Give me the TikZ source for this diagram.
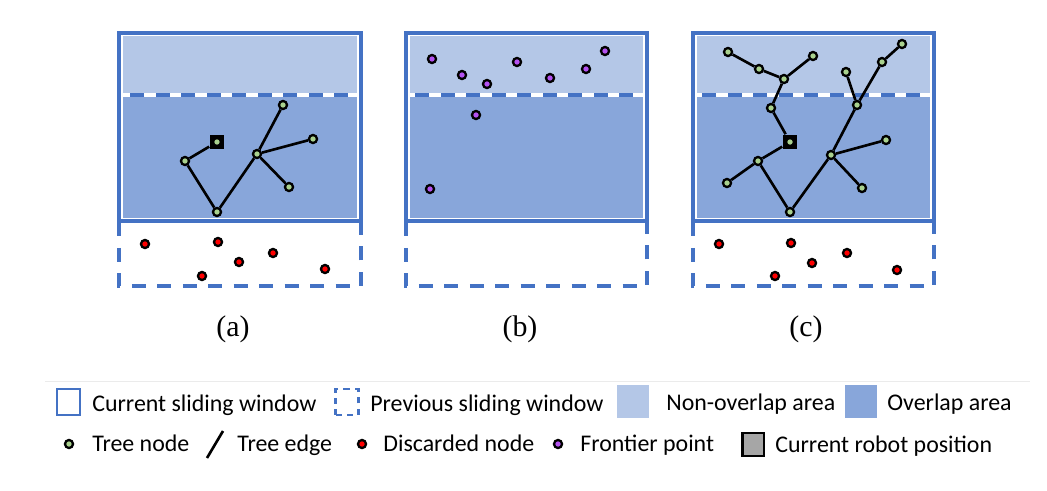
\documentclass[tikz,border=0pt]{standalone}
\usepackage{fontspec}
\setmainfont{Carlito}
\newfontfamily\capfont{Liberation Serif}
\definecolor{winblue}{HTML}{4472C4}
\definecolor{lightarea}{HTML}{B4C7E7}
\definecolor{darkarea}{HTML}{88A6DA}
\definecolor{treegreen}{HTML}{A9D18E}
\definecolor{frontpurple}{HTML}{B452F0}
\begin{document}
\begin{tikzpicture}[x=0.02cm, y=-0.02cm,
  curwin/.style={draw=winblue, line width=2.1pt},
  prevwin/.style={draw=winblue, line width=2.1pt, dash pattern=on 8pt off 6.5pt},
  nonover/.style={fill=lightarea},
  over/.style={fill=darkarea},
  ptdot/.style={circle, draw=black, line width=1.3pt, inner sep=0pt, minimum size=4.6pt},
  tnode/.style={ptdot, fill=treegreen},
  dnode/.style={ptdot, fill=red},
  fpoint/.style={ptdot, fill=frontpurple},
  robot/.style={rectangle, fill=black, inner sep=0pt, minimum size=8.5pt},
  treeedge/.style={line width=1.5pt},
  sublabel/.style={font=\capfont\fontsize{17}{20}\selectfont, anchor=base, inner sep=0pt},
  legtext/.style={font=\fontsize{13.6}{16}\selectfont, anchor=base west, inner sep=0pt},
  legkey/.style={rectangle, inner sep=0pt, minimum width=13pt, minimum height=14.5pt}]
  \useasboundingbox (0,0) rectangle (1047,490);

  % Panel (a): tree in the overlap area, discarded nodes below
  \begin{scope}[shift={(119,0)}]
    \fill[nonover] (4,36) rectangle (238,93);
    \fill[over] (4,97) rectangle (238,218);
    \draw[prevwin] (0,95) -- (0,286) -- (242,286) -- (242,95) -- cycle;
    \draw[curwin] (0,33) rectangle (242,221);

    \node[robot] (ar) at (98,142) {};
    \node[tnode] (ar0) at (ar) {};
    \node[tnode] (a1) at (66,161) {};
    \node[tnode] (a2) at (98,212) {};
    \node[tnode] (a3) at (138,154) {};
    \node[tnode] (a4) at (164,105) {};
    \node[tnode] (a5) at (194,139) {};
    \node[tnode] (a6) at (170,187) {};
    \draw[treeedge] (ar) -- (a1) -- (a2) -- (a3);
    \draw[treeedge] (a3) -- (a4) (a3) -- (a5) (a3) -- (a6);

    \node[dnode] (ad1) at (26,244) {};
    \node[dnode] (ad2) at (99,242) {};
    \node[dnode] (ad3) at (120,262) {};
    \node[dnode] (ad4) at (154,253) {};
    \node[dnode] (ad5) at (83,276) {};
    \node[dnode] (ad6) at (206,269) {};

    \node[sublabel] (alabel) at (114,336) {(a)};
  \end{scope}

  % Panel (b): frontier points
  \begin{scope}[shift={(406,0)}]
    \fill[nonover] (4,36) rectangle (237,93);
    \fill[over] (4,97) rectangle (237,218);
    \draw[prevwin] (0,95) -- (0,286) -- (241,286) -- (241,95) -- cycle;
    \draw[curwin] (0,33) rectangle (241,221);

    \node[fpoint] (b1) at (26,59) {};
    \node[fpoint] (b2) at (56,75) {};
    \node[fpoint] (b3) at (81,84) {};
    \node[fpoint] (b4) at (111,62) {};
    \node[fpoint] (b5) at (144,78) {};
    \node[fpoint] (b6) at (180,69) {};
    \node[fpoint] (b7) at (199,51) {};
    \node[fpoint] (b8) at (70,115) {};
    \node[fpoint] (b9) at (24,189) {};

    \node[sublabel] (blabel) at (114,336) {(b)};
  \end{scope}

  % Panel (c): tree grown into the new area
  \begin{scope}[shift={(693,0)}]
    \fill[nonover] (4,36) rectangle (237,93);
    \fill[over] (4,97) rectangle (237,218);
    \draw[prevwin] (0,95) -- (0,286) -- (241,286) -- (241,95) -- cycle;
    \draw[curwin] (0,33) rectangle (241,221);

    \node[robot] (cr) at (97,142) {};
    \node[tnode] (cr0) at (cr) {};
    \node[tnode] (c1) at (35,52) {};
    \node[tnode] (c2) at (66,69) {};
    \node[tnode] (c3) at (91,79) {};
    \node[tnode] (c4) at (120,56) {};
    \node[tnode] (c5) at (78,108) {};
    \node[tnode] (c6) at (65,161) {};
    \node[tnode] (c7) at (34,183) {};
    \node[tnode] (c8) at (97,212) {};
    \node[tnode] (c9) at (138,155) {};
    \node[tnode] (c10) at (193,140) {};
    \node[tnode] (c11) at (169,188) {};
    \node[tnode] (c12) at (164,105) {};
    \node[tnode] (c13) at (153,72) {};
    \node[tnode] (c14) at (189,62) {};
    \node[tnode] (c15) at (209,44) {};
    \draw[treeedge] (c1) -- (c2) -- (c3) -- (c4) (c3) -- (c5) -- (cr) -- (c6) -- (c7);
    \draw[treeedge] (c6) -- (c8) -- (c9) -- (c10) (c9) -- (c11) (c9) -- (c12) -- (c13);
    \draw[treeedge] (c12) -- (c14) -- (c15);

    \node[dnode] (cd1) at (26,244) {};
    \node[dnode] (cd2) at (98,243) {};
    \node[dnode] (cd3) at (119,263) {};
    \node[dnode] (cd4) at (154,253) {};
    \node[dnode] (cd5) at (82,276) {};
    \node[dnode] (cd6) at (204,270) {};

    \node[sublabel] (clabel) at (113,336) {(c)};
  \end{scope}

  % Legend
  \draw[black!8, line width=0.5pt] (45,381) -- (1030,381);

  \node[legkey, draw=winblue, line width=1.3pt] (kcur) at (68.5,402) {};
  \node[legtext] (tcur) at (92,411) {Current sliding window};
  \node[legkey, draw=winblue, line width=1.3pt, dash pattern=on 3.5pt off 3pt] (kprev) at (347,402) {};
  \node[legtext] (tprev) at (370,411) {Previous sliding window};
  \node[legkey, fill=lightarea, minimum width=18pt, minimum height=18.5pt] (knon) at (633,401.5) {};
  \node[legtext] (tnon) at (666,410) {Non-overlap area};
  \node[legkey, fill=darkarea, minimum width=18pt, minimum height=18.5pt] (kover) at (861,401.5) {};
  \node[legtext] (tover) at (887,410) {Overlap area};

  \node[tnode] (ktree) at (69,444) {};
  \node[legtext] (ttree) at (92,451) {Tree node};
  \coordinate (kedgea) at (207,458);
  \coordinate (kedgeb) at (223,431);
  \draw[treeedge] (kedgea) -- (kedgeb);
  \node[legtext] (tedge) at (237,451) {Tree edge};
  \node[dnode] (kdisc) at (362,444) {};
  \node[legtext] (tdisc) at (383,451) {Discarded node};
  \node[fpoint] (kfront) at (558,444) {};
  \node[legtext] (tfront) at (580,451) {Frontier point};
  \node[legkey, fill=black!35, draw=black, line width=1.2pt, minimum width=12pt, minimum height=13.5pt] (krobot) at (753,444.5) {};
  \node[legtext] (trobot) at (775,452) {Current robot position};
\end{tikzpicture}
\end{document}
